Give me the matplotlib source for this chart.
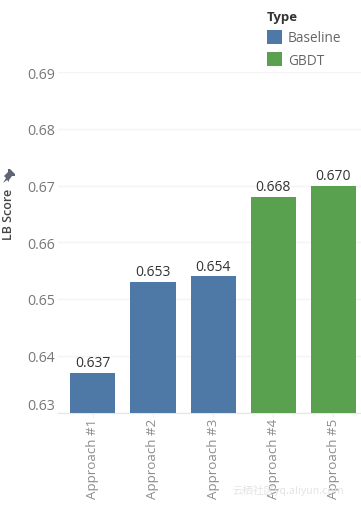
import matplotlib
matplotlib.use("Agg")
import matplotlib.pyplot as plt
from matplotlib.patches import Patch, Polygon
from matplotlib.transforms import ScaledTranslation

plt.rcParams['font.family'] = ['Open Sans', 'DejaVu Sans']

approaches = ["Approach #1", "Approach #2", "Approach #3", "Approach #4", "Approach #5"]
scores = [0.637, 0.653, 0.654, 0.668, 0.670]
types = ["Baseline", "Baseline", "Baseline", "GBDT", "GBDT"]
type_colors = {"Baseline": "#4e79a7", "GBDT": "#59a14f"}
y_ticks = [0.63, 0.64, 0.65, 0.66, 0.67, 0.68, 0.69]

W, H = 361, 506
fig = plt.figure(figsize=(W / 100, H / 100), dpi=100)
ax = fig.add_axes([58 / W, (H - 413.5) / H, (W - 58) / W, (413.5 - 73) / H])

x = range(len(approaches))
colors = [type_colors[t] for t in types]
ax.bar(x, scores, width=0.75, color=colors, zorder=3)
for i, s in zip(x, scores):
    ax.annotate(f"{s:.3f}", (i, s), xytext=(0, 2), textcoords="offset points",
                ha="center", va="bottom", fontsize=10, color="#333333", zorder=4)

ax.set_xlim(-0.58, 4.46)
ax.set_ylim(0.63, 0.69)
ax.set_yticks(y_ticks)
ax.set_yticklabels([f"{v:.2f}" for v in y_ticks], fontsize=10.2, color="#777777")
ax.set_xticks(list(x))
ax.set_xticklabels(approaches, rotation=90, fontsize=9.6, color="#8c8c8c")
ax.tick_params(axis="y", length=0, pad=2)
ax.tick_params(axis="x", length=3, color="#f0f0f0", pad=1)
ax.grid(axis="y", color="#f4f4f4", lw=1, zorder=0)
for side in ["top", "right", "left"]:
    ax.spines[side].set_visible(False)
ax.spines["bottom"].set_color("#e6e6e6")

# lowest tick label sits above the axis line in the original
low = ax.get_yticklabels()[0]
low.set_transform(low.get_transform() + ScaledTranslation(0, 9 / 100, fig.dpi_scale_trans))

fig.text(9 / W, 1 - 214 / H, "LB Score", rotation=90, ha="center", va="center",
         fontsize=9, color="#444444", fontweight="semibold")

# pin icon next to the axis title
pin = [(4, 177), (8, 173), (8, 170), (10, 170), (15, 175), (15, 177), (12, 177),
       (9, 181), (9, 183), (7, 181), (3, 184), (6, 179), (4, 177)]
fig.add_artist(Polygon([(px / W, 1 - py / H) for px, py in pin], closed=True,
                       transform=fig.transFigure, facecolor="#5f6472", edgecolor="none"))

handles = [Patch(facecolor=c, label=t) for t, c in type_colors.items()]
leg = fig.legend(handles=handles, title="Type", loc="upper left",
                 bbox_to_anchor=(256 / W, 1), frameon=False, fontsize=9.8,
                 handlelength=1.1, handleheight=1.2, labelspacing=0.5, handletextpad=0.45,
                 alignment="left", borderpad=0.3)
leg.get_title().set_fontsize(9.5)
leg.get_title().set_fontweight("bold")
leg.get_title().set_color("#333333")
for t in leg.get_texts():
    t.set_color("#666666")

fig.text(232 / W, 1 - 491 / H, "云栖社区yq.aliyun.com", fontsize=7.6, color="#e4e4e4",
         family=["Noto Sans CJK SC", "DejaVu Sans"], ha="left", va="center")

fig.savefig("out.png", dpi=100)
